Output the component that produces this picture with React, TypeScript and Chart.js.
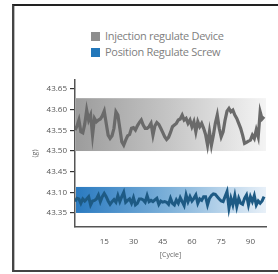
import React, { useEffect, useRef } from "react";
import { Chart, registerables } from "chart.js";

Chart.register(...registerables);

// y-axis tick labels (bottom to top, one per axis unit)
const yTickLabels = ["43.35", "43.10", "43.45", "43.50", "43.55", "43.60", "43.65"];
const xTicks = [15, 30, 45, 60, 75, 90];

// series values, in axis units
const injectionDevice = [
  4.02, 4.2, 4.5, 3.93, 3.88, 4.3, 4.98, 4.5, 4.74, 3.77,
  4.58, 4.42, 4.5, 4.55, 4.7, 4.93, 4.34, 3.77, 3.61, 3.74,
  4.1, 4.9, 4.74, 4.1, 3.45, 3.29, 3.53, 3.74, 3.8, 4.1,
  4.13, 4.02, 4.22, 4.38, 4.5, 4.26, 4.1, 4.1, 4.18, 4.34,
  3.77, 4.22, 4.38, 4.29, 4.1, 3.9, 3.69, 3.56, 3.66, 3.9,
  4.18, 4.26, 4.34, 4.5, 4.55, 4.74, 4.5, 4.58, 4.34, 4.5,
  4.18, 4.42, 3.93, 4.42, 4.18, 4.34, 4.1, 3.8, 3.29, 3.93,
  3.29, 3.77, 4.34, 4.74, 4.1, 3.69, 3.93, 4.5, 4.93, 5.06,
  4.9, 4.98, 4.74, 4.58, 4.34, 4.1, 3.77, 3.37, 3.42, 3.48,
  3.53, 3.77, 3.61, 4.02, 3.69, 4.9, 4.55, 4.66,
];
const positionScrew = [
  0.55, 0.71, 0.68, 0.47, 0.68, 0.58, 0.68, 0.79, 0.39, 0.58,
  0.61, 0.68, 0.87, 0.55, 0.79, 0.95, 0.79, 0.58, 0.42, 0.55,
  0.65, 0.52, 0.84, 0.55, 0.79, 1.0, 0.52, 0.61, 0.68, 0.47,
  0.74, 0.39, 0.47, 0.68, 0.68, 0.63, 0.52, 0.84, 0.55, 0.61,
  0.55, 0.63, 0.71, 0.42, 0.58, 0.52, 0.55, 0.52, 0.42, 0.71,
  0.47, 0.39, 0.63, 0.47, 0.74, 0.55, 0.36, 0.87, 0.55, 0.79,
  0.58, 0.71, 0.87, 0.47, 0.68, 0.61, 0.79, 0.79, 0.39, 0.71,
  0.84, 0.92, 0.9, 0.79, 0.68, 0.58, 0.55, 0.79, 1.03, 0.23,
  0.71, 0.39, 0.84, 0.31, 0.71, 0.47, 0.42, 0.71, 0.87, 0.39,
  0.79, 0.55, 0.84, 0.39, 0.58, 0.47, 0.58, 0.79,
];
const cycles = injectionDevice.map((_, i) => i);

// tolerance bands, in axis units [low, high]
const grayBand = [3.0, 5.56];
const blueBand = [0.0, 1.26];

const seriesLabels = ["Injection regulate Device", "Position Regulate Screw"];
const legendColors = ["#8e8e8e", "#2277ba"];

const bandPlugin = {
  id: "bands",
  beforeDatasetsDraw(chart: any) {
    const { ctx, chartArea, scales } = chart;
    const y = scales.y;
    const l = chartArea.left + 1;
    const r = chartArea.right;
    const draw = (band: number[], c0: string, c1: string, c2: string) => {
      const top = y.getPixelForValue(band[1]);
      const bot = y.getPixelForValue(band[0]);
      const g = ctx.createLinearGradient(l, 0, r, 0);
      g.addColorStop(0, c0);
      g.addColorStop(0.5, c1);
      g.addColorStop(1, c2);
      ctx.save();
      ctx.fillStyle = g;
      ctx.fillRect(l, top, r - l, bot - top);
      ctx.restore();
    };
    draw(grayBand, "#9c9c9c", "#c6c6c6", "#f4f4f4");
    draw(blueBand, "#2a7ac0", "#7fb2da", "#e8f0f8");
  },
};

export default function App() {
  const ref = useRef<HTMLCanvasElement>(null);
  useEffect(() => {
    if (!ref.current) return;
    document.body.style.overflow = "hidden";
    const chart = new Chart(ref.current, {
      type: "line",
      data: {
        datasets: [
          {
            label: seriesLabels[0],
            data: cycles.map((c, i) => ({ x: c, y: injectionDevice[i] })),
            borderColor: "#6a6a6a",
            borderWidth: 3.2,
            pointRadius: 0,
            tension: 0,
          },
          {
            label: seriesLabels[1],
            data: cycles.map((c, i) => ({ x: c, y: positionScrew[i] })),
            borderColor: "#1d5a84",
            borderWidth: 3,
            pointRadius: 0,
            tension: 0,
          },
        ],
      },
      options: {
        animation: false,
        responsive: false,
        layout: { padding: { top: 74, right: 12, bottom: 0, left: 0 } },
        plugins: { legend: { display: false }, tooltip: { enabled: false } },
        scales: {
          x: {
            type: "linear",
            min: 0,
            max: 98,
            afterFit: (s: any) => { s.height = 43; },
            afterBuildTicks: (s: any) => { s.ticks = xTicks.map((v) => ({ value: v })); },
            grid: { display: false, drawTicks: false },
            border: { display: true, color: "#555", width: 1.5 },
            ticks: {
              color: "#555",
              padding: 10,
              font: { family: "Open Sans", size: 8 },
              maxRotation: 0,
            },
            title: {
              display: true,
              text: "[Cycle]",
              color: "#666",
              font: { family: "Open Sans", size: 7 },
              padding: { top: 0, bottom: 11 },
            },
          },
          y: {
            type: "linear",
            min: -0.68,
            max: 6.44,
            afterFit: (s: any) => { s.width = 61; },
            afterBuildTicks: (s: any) => { s.ticks = yTickLabels.map((_, i) => ({ value: i })); },
            grid: { drawOnChartArea: false, tickLength: 5, color: "#333", lineWidth: 1.2 },
            border: { display: true, color: "#555", width: 1.5 },
            ticks: {
              color: "#555",
              padding: 3,
              font: { family: "Open Sans", size: 8 },
              callback: (v: any) => yTickLabels[Math.round(Number(v))] ?? "",
            },
            title: {
              display: true,
              text: "(g)",
              color: "#666",
              font: { family: "Open Sans", size: 7 },
              padding: { top: 17, bottom: 0 },
            },
          },
        },
      },
      plugins: [bandPlugin],
    });
    return () => chart.destroy();
  }, []);

  return (
    <div>
      <div
        style={{
          position: "fixed",
          left: 12,
          top: 4,
          width: 300,
          height: 264,
          borderTop: "2px solid #222",
          borderLeft: "2px solid #444",
          borderBottom: "2px solid #444",
          boxShadow: "inset 1px 0 0 #bbb",
          background: "#fff",
        }}
      />
      <div style={{ position: "fixed", left: 91, top: 28, fontFamily: "Open Sans", fontSize: 11, color: "#808080" }}>
        {seriesLabels.map((lab, i) => (
          <div key={lab} style={{ display: "flex", alignItems: "center", height: 16 }}>
            <span style={{ width: 9, height: 9, background: legendColors[i], display: "inline-block", marginRight: 5 }} />
            <span style={{ lineHeight: "16px", letterSpacing: -0.3 }}>{lab}</span>
          </div>
        ))}
      </div>
      <canvas
        ref={ref}
        width={264}
        height={264}
        style={{ position: "fixed", left: 14, top: 6, width: 264, height: 264 }}
      />
    </div>
  );
}
